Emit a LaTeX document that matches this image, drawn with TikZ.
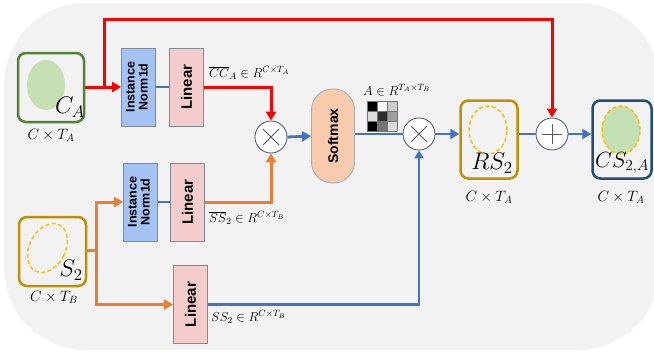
\RequirePackage{fix-cm}
\documentclass[tikz,border=0pt]{standalone}
\usepackage{fontspec}
\setmainfont{Liberation Sans}
\usetikzlibrary{arrows.meta,calc}
\definecolor{bg}{HTML}{F2F2F2}
\definecolor{inblue}{HTML}{A4C2F4}
\definecolor{linpink}{HTML}{F4CCCC}
\definecolor{softor}{HTML}{F8CBAD}
\definecolor{boxgray}{HTML}{7F8A99}
\definecolor{gborder}{HTML}{538135}
\definecolor{gfill}{HTML}{C5E0B4}
\definecolor{gold}{HTML}{BF9000}
\definecolor{yel}{HTML}{FFC000}
\definecolor{navy}{HTML}{1F4E79}
\definecolor{redc}{HTML}{FF0000}
\definecolor{orc}{HTML}{ED7D31}
\definecolor{bluec}{HTML}{4472C4}
\definecolor{circ}{HTML}{44546A}
\definecolor{opgray}{HTML}{595959}
\tikzset{
  thinbox/.style={draw=boxgray, line width=0.9pt, inner sep=0pt},
  inbox/.style={thinbox, fill=inblue, minimum width=34pt, minimum height=78pt, font=\fontsize{12.5}{13}\selectfont\bfseries},
  linbox/.style={thinbox, fill=linpink, minimum width=34pt, minimum height=78pt, font=\fontsize{15}{16}\selectfont\bfseries},
  bigbox/.style={rounded corners=8pt, line width=2.5pt, inner sep=0pt},
  opc/.style={circle, draw=circ, line width=0.8pt, fill=white, minimum size=32pt, inner sep=0pt},
  redl/.style={draw=redc, line width=3pt},
  orl/.style={draw=orc, line width=3pt},
  bll/.style={draw=bluec, line width=2.8pt},
  blthin/.style={draw=bluec, line width=1.6pt},
  tip/.style={-{Triangle[length=9pt,width=10pt]}},
  ydash/.style={draw=yel, line width=1.5pt, dash pattern=on 4pt off 2.5pt},
  dimlab/.style={font=\fontsize{15}{16}\selectfont},
  biglab/.style={font=\fontsize{24}{26}\selectfont},
  lab/.style={font=\fontsize{13}{14}\selectfont, anchor=west, inner sep=0pt},
}
\begin{document}
\begin{tikzpicture}[x=1pt,y=-1pt]
\useasboundingbox (0,0) rectangle (654,356);
\fill[bg, rounded corners=82pt] (4,3) rectangle (660,350);

% C_A box
\node[bigbox, draw=gborder, minimum width=66pt, minimum height=69pt] (ca) at (51,87.5) {};
\fill[gfill] (46,85) ellipse (19pt and 25pt);
\node[biglab] (calab) at (70,107) {$C_A$};
\node[dimlab] (cadim) at (51,135) {$C\times T_A$};

% S2 box
\node[bigbox, draw=gold, minimum width=67pt, minimum height=69pt] (s2) at (52.5,251.5) {};
\draw[ydash, rotate around={-28:(47.5,248)}] (47.5,248) ellipse (18pt and 26pt);
\node[biglab] (s2lab) at (71,270) {$S_2$};
\node[dimlab] (s2dim) at (54,297) {$C\times T_B$};

% top row
\node[inbox] (in1) at (138.5,87) {\rotatebox{90}{\begin{tabular}{@{}c@{}}Instance\\Norm1d\end{tabular}}};
\node[linbox] (lin1) at (186.5,87) {\rotatebox{90}{Linear}};
% second row
\node[inbox] (in2) at (140.5,202) {\rotatebox{90}{\begin{tabular}{@{}c@{}}Instance\\Norm1d\end{tabular}}};
\node[linbox] (lin2) at (187.5,202) {\rotatebox{90}{Linear}};
% third
\node[linbox] (lin3) at (190.5,304.5) {\rotatebox{90}{Linear}};

% ops
\node[opc] (ot1) at (271,137) {};
\draw[opgray, line width=1pt] ($(ot1.center)+(-8,-8)$) -- ($(ot1.center)+(8,8)$) ($(ot1.center)+(-8,8)$) -- ($(ot1.center)+(8,-8)$);
\node[thinbox, draw=boxgray!70, fill=softor, rounded corners=21pt, minimum width=43pt, minimum height=94pt, font=\fontsize{14}{15}\selectfont\bfseries] (sm) at (333,136) {\rotatebox{90}{Softmax}};
\node[opc] (ot2) at (419,134) {};
\draw[opgray, line width=1pt] ($(ot2.center)+(-8,-8)$) -- ($(ot2.center)+(8,8)$) ($(ot2.center)+(-8,8)$) -- ($(ot2.center)+(8,-8)$);
\node[opc] (pl) at (552,134) {};
\draw[opgray, line width=1pt] ($(pl.center)+(-10,0)$) -- ($(pl.center)+(10,0)$) ($(pl.center)+(0,-10)$) -- ($(pl.center)+(0,10)$);

% RS2 box
\node[bigbox, draw=gold, minimum width=57pt, minimum height=78pt] (rs) at (489,139.5) {};
\draw[ydash] (488,130) ellipse (19pt and 24pt);
\node[biglab] (rslab) at (492,163) {$RS_2$};
\node[dimlab] (rsdim) at (489,197) {$C\times T_A$};

% CS box
\node[bigbox, draw=navy, minimum width=59pt, minimum height=78pt] (cs) at (622,139.5) {};
\draw[ydash, fill=gfill] (621,130) ellipse (19pt and 24pt);
\node[biglab, font=\fontsize{22}{24}\selectfont] (cslab) at (622,163) {$CS_{2,A}$};
\node[dimlab] (csdim) at (621,197) {$C\times T_A$};

% matrix icon
\def\cell#1#2#3{\fill[#3] ({367+#2*10},{101+#1*10}) rectangle ++(10,10);}
\cell00{black}\cell01{white}\cell02{black!20}
\cell10{black!14}\cell11{black!82}\cell12{black!38}
\cell20{black}\cell21{black!55}\cell22{black!14}
\foreach \i in {0,1,2,3}{
  \draw[circ!80, line width=1pt] ({367+\i*10},101) -- ({367+\i*10},131);
  \draw[circ!80, line width=1pt] (367,{101+\i*10}) -- (397,{101+\i*10});
}

% labels
\node[lab] (lcc) at (209,73) {$\overline{CC}_A \in R^{C\times T_A}$};
\node[lab] (lss2) at (209,218) {$\overline{SS}_2 \in R^{C\times T_B}$};
\node[lab] (lss) at (211,317) {$SS_2 \in R^{C\times T_B}$};
\node[lab] (la) at (363,90) {$A \in R^{T_A\times T_B}$};

% connectors
\coordinate (br1) at (104,87);
\coordinate (top1) at (104,19);
\draw[redl, tip] (ca.east |- br1) -- (in1.west);
\draw[redl, tip] (br1) -- (top1) -| (pl.north);
\draw[blthin] (in1.east) -- (lin1.west);
\draw[redl, tip] (lin1.east) -| (ot1.north);

\coordinate (br2) at (96,250);
\draw[orl] (s2.east |- br2) -- (br2);
\draw[orl, tip] (br2) |- (in2.west);
\draw[orl, tip] (br2) |- (lin3.west);
\draw[blthin] (in2.east) -- (lin2.west);
\draw[orl, tip] (lin2.east) -| (ot1.south);

\draw[bll, tip] (ot1.east) -- (sm.west);
\draw[bll] (sm.east |- ot2) -- (ot2.west);
\draw[bll, -{Triangle[length=8pt,width=9pt]}] (lin3.east) -| (ot2.south);
\draw[bll, tip] (ot2.east) -- (ot2.east -| rs.west);
\draw[bll] (rs.east |- pl) -- (pl.west);
\draw[bll, tip] (pl.east) -- (pl.east -| cs.west);
\end{tikzpicture}
\end{document}
